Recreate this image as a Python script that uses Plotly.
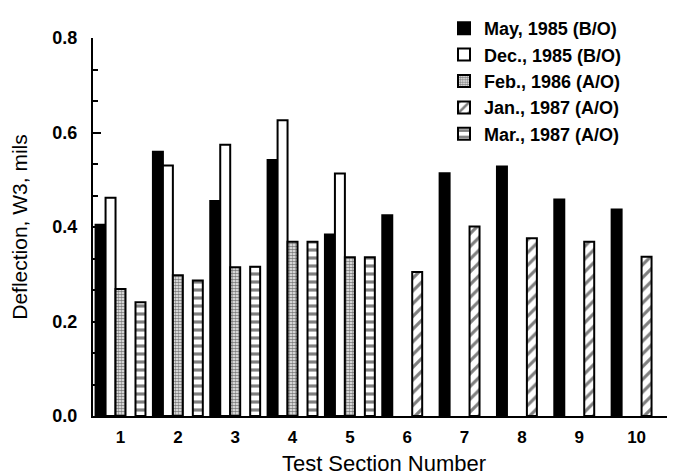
import plotly.graph_objects as go

sections = [1, 2, 3, 4, 5, 6, 7, 8, 9, 10]
section_labels = ["1", "2", "3", "4", "5", "6", "7", "8", "9", "10"]

may_1985 = [0.405, 0.559, 0.455, 0.542, 0.384, 0.425, 0.514, 0.528, 0.458, 0.437]
dec_1985 = [0.462, 0.530, 0.574, 0.626, 0.513, None, None, None, None, None]
feb_1986 = [0.269, 0.298, 0.315, 0.369, 0.336, None, None, None, None, None]
jan_1987 = [None, None, None, None, None, 0.305, 0.401, 0.376, 0.369, 0.337]
mar_1987 = [0.241, 0.287, 0.316, 0.369, 0.336, None, None, None, None, None]

series_names = ["May, 1985 (B/O)", "Dec., 1985 (B/O)", "Feb., 1986 (A/O)",
                "Jan., 1987 (A/O)", "Mar., 1987 (A/O)"]

FONT = "Liberation Sans, Arial, sans-serif"

styles = [
    dict(color="black", pattern=dict(shape="")),
    dict(color="white", pattern=dict(shape="")),
    dict(color="white", pattern=dict(shape=".", fgcolor="black", bgcolor="white", size=3, solidity=0.65)),
    dict(color="white", pattern=dict(shape="/", fgcolor="black", bgcolor="white", size=9, solidity=0.35)),
    dict(color="white", pattern=dict(shape="-", fgcolor="black", bgcolor="white", size=8, solidity=0.4)),
]

fig = go.Figure()
for name, vals, st in zip(series_names, [may_1985, dec_1985, feb_1986, jan_1987, mar_1987], styles):
    fig.add_trace(go.Bar(
        x=sections, y=vals, name=name,
        marker=dict(color=st["color"], line=dict(color="black", width=2), pattern=st["pattern"]),
    ))

# page body has an 8px margin, so the figure is drawn 8px in from the window's corner
W, H = 667, 468
fig.update_layout(
    width=W, height=H,
    margin=dict(l=85, r=0, t=30, b=60, autoexpand=False),
    barmode="group", bargap=0.13, bargroupgap=0,
    plot_bgcolor="white", paper_bgcolor="white",
    font=dict(family=FONT, color="black"),
    showlegend=True,
    legend=dict(xref="container", yref="container", x=436 / W, y=1 - 2 / H,
                xanchor="left", yanchor="top", font=dict(size=18, family=FONT, weight="bold"),
                bgcolor="rgba(0,0,0,0)", tracegroupgap=0),
    xaxis=dict(range=[0.52, 10.67], tickmode="array", tickvals=sections, ticktext=section_labels,
               showline=True, linecolor="black", linewidth=2, ticks="", showgrid=False, zeroline=False,
               tickfont=dict(size=17, weight="bold"), ticklabelstandoff=5,
               title=dict(text="Test Section Number", font=dict(size=22), standoff=13)),
    yaxis=dict(range=[0, 0.8], tickmode="linear", tick0=0, dtick=0.2, tickformat=".1f",
               showline=True, linecolor="black", linewidth=2, ticks="inside", ticklen=8, tickwidth=2,
               tickcolor="black", showgrid=False, zeroline=False,
               tickfont=dict(size=18, weight="bold"), ticklabelstandoff=10,
               minor=dict(tickmode="linear", tick0=0, dtick=0.2 / 3, ticks="inside", ticklen=5,
                          tickwidth=2, tickcolor="black", showgrid=False),
               title=dict(text="Deflection, W3, mils", font=dict(size=21), standoff=20)),
)

fig.write_html("out.html")
